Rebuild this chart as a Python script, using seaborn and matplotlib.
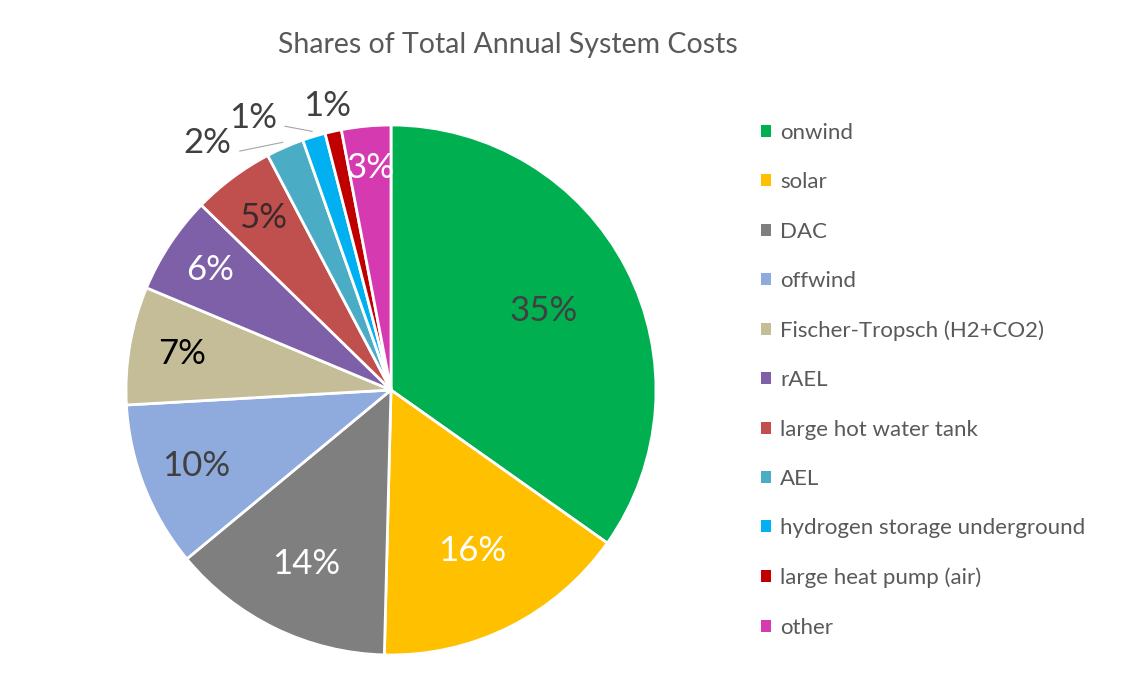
import numpy as np
import matplotlib
matplotlib.use("Agg")
import matplotlib.pyplot as plt
import seaborn as sns

# ---- data ----
categories = ["onwind", "solar", "DAC", "offwind", "Fischer-Tropsch (H2+CO2)", "rAEL",
              "large hot water tank", "AEL", "hydrogen storage underground",
              "large heat pump (air)", "other"]
shares = [34.8, 15.6, 13.6, 10.1, 7.2, 6.0, 5.0, 2.3, 1.4, 1.0, 3.0]
colors = ["#00b050", "#ffc000", "#7f7f7f", "#8faadc", "#c4bd97", "#7e60a8",
          "#c0504d", "#4bacc6", "#00b0f0", "#c00000", "#d63ab0"]
title = "Shares of Total Annual System Costs"

# label styling (radius factor, angular offset in degrees, colour)
label_r = [0.65, 0.68, 0.73, 0.79, 0.80, 0.82, 0.81, 1.16, 1.15, 1.10, 0.84]
label_dtheta = [0, 0, 0, 0, 0, 0, 0, 13.0, 10.0, 0, 0]
label_col = ["#404040", "white", "white", "#404040", "black", "white", "#3a2a2a",
             "#404040", "#404040", "#404040", "white"]
leader = [False, False, False, False, False, False, False, True, True, False, False]

sns.set_theme(style="white")
font = ["Lato", "DejaVu Sans"]
plt.rcParams["font.family"] = font

W, H = 1133, 693
fig = plt.figure(figsize=(W / 100, H / 100), dpi=100)
cx, cy, R = 391, 390, 265
ax = fig.add_axes([(cx - R) / W, (H - cy - R) / H, 2 * R / W, 2 * R / H])

palette = sns.color_palette(colors)
wedges, _ = ax.pie(shares, colors=palette, startangle=90, counterclock=False,
                   wedgeprops=dict(edgecolor="white", linewidth=2))
ax.set_xlim(-1, 1)
ax.set_ylim(-1, 1)
ax.set_aspect("equal")
ax.axis("off")

for w, v, r, dt, c, ld in zip(wedges, shares, label_r, label_dtheta, label_col, leader):
    mid = np.deg2rad((w.theta1 + w.theta2) / 2)
    th = mid + np.deg2rad(dt)
    x, y = r * np.cos(th), r * np.sin(th)
    ax.text(x, y, f"{v:.0f}%", ha="center", va="center", color=c, fontsize=25,
            clip_on=False)
    if ld:
        ex, ey = 1.02 * np.cos(mid), 1.02 * np.sin(mid)
        sx = x + 0.12
        sy = y - 0.03
        ax.plot([sx, ex], [sy, ey], color="#a6a6a6", lw=0.8, clip_on=False)

fig.text(508 / W, 1 - 45 / H, title, ha="center", va="center", fontsize=20.5,
         color="#595959")

leg = fig.legend(wedges, categories, loc="upper left",
                 bbox_to_anchor=(741 / W, 1 - 103 / H), frameon=False,
                 fontsize=16, labelspacing=1.32, handlelength=0.45,
                 handleheight=0.45, handletextpad=0.4, labelcolor="#595959")
for h in leg.legend_handles:
    h.set_edgecolor("none")

fig.savefig("out.png", dpi=100, facecolor="white")
